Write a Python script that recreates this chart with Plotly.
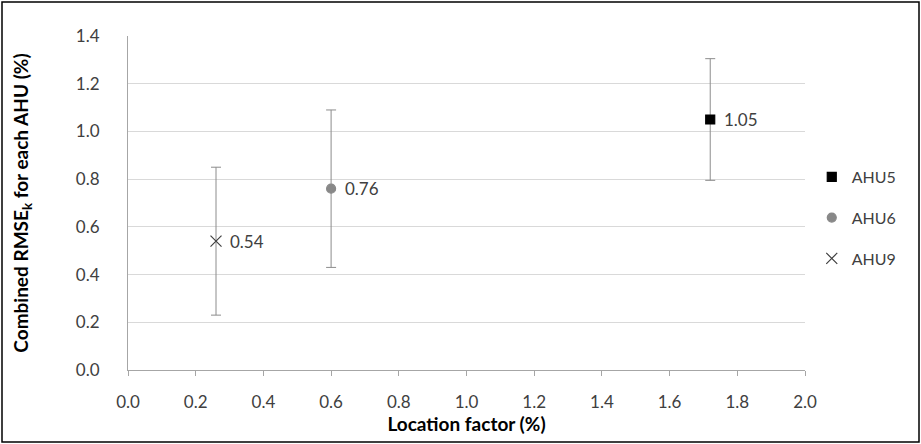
import plotly.graph_objects as go

# Data
series = ["AHU5", "AHU6", "AHU9"]
location_factor = [1.72, 0.60, 0.26]
rmse = [1.05, 0.76, 0.54]
err_plus = [0.255, 0.33, 0.31]
labels = ["1.05", "0.76", "0.54"]
x_ticks = [0.0, 0.2, 0.4, 0.6, 0.8, 1.0, 1.2, 1.4, 1.6, 1.8, 2.0]
y_ticks = [0.0, 0.2, 0.4, 0.6, 0.8, 1.0, 1.2, 1.4]

symbols = ["square", "circle", "x-thin"]
colors = ["#000000", "#888888", "#404040"]
sizes = [9, 9, 11]

FONT = "Lato, Open Sans, sans-serif"

fig = go.Figure()
for i, name in enumerate(series):
    fig.add_trace(go.Scatter(
        x=[location_factor[i]], y=[rmse[i]], mode="markers", name=name,
        legendgroup=name,
        marker=dict(symbol=symbols[i], color=colors[i], size=sizes[i],
                    line=dict(width=1.2, color=colors[i])),
        error_y=dict(type="data", array=[err_plus[i]], color="#8c8c8c",
                     thickness=1, width=5),
    ))
    fig.add_annotation(x=location_factor[i], y=rmse[i], text=labels[i],
                       showarrow=False, xanchor="left", xshift=12,
                       font=dict(family=FONT, size=17, color="#404040"))

fig.update_layout(
    width=921, height=444,
    margin=dict(l=128, r=116, t=36, b=74),
    paper_bgcolor="white", plot_bgcolor="white",
    font=dict(family=FONT, color="#404040"),
    showlegend=True,
    legend=dict(x=1.01, y=0.629, xanchor="left", yanchor="top",
                font=dict(family=FONT, size=16, color="#404040"),
                tracegroupgap=17, traceorder="grouped",
                itemwidth=30, bgcolor="rgba(0,0,0,0)"),
    xaxis=dict(range=[0, 2.0], tickvals=x_ticks,
               ticktext=[f"{v:.1f}" for v in x_ticks],
               showgrid=False, zeroline=False,
               showline=True, linecolor="#a6a6a6", linewidth=1,
               ticks="outside", ticklen=5, tickcolor="#a6a6a6",
               ticklabelstandoff=12,
               tickfont=dict(family=FONT, size=17, color="#404040"),
               title=dict(text="<b>Location factor (%)</b>", standoff=4,
                          font=dict(family=FONT, size=19, color="#000000"))),
    yaxis=dict(range=[0, 1.4], tickvals=y_ticks,
               ticktext=[f"{v:.1f}" for v in y_ticks],
               showgrid=True, gridcolor="#d9d9d9", gridwidth=1,
               zeroline=False,
               showline=True, linecolor="#a6a6a6", linewidth=1,
               ticks="", ticklabelstandoff=24,
               tickfont=dict(family=FONT, size=17, color="#404040"),
               title=dict(text="<b>Combined RMSE<sub>k</sub> for each AHU (%)</b>",
                          standoff=42,
                          font=dict(family=FONT, size=19, color="#000000"))),
)

# outer chart border
fig.add_shape(type="rect", xref="paper", yref="paper",
              x0=-126/677, x1=1 + 114/677, y0=-72/334, y1=1 + 34/334,
              line=dict(color="#000000", width=1.5), fillcolor="rgba(0,0,0,0)",
              layer="above")

fig.write_html("out.html")
